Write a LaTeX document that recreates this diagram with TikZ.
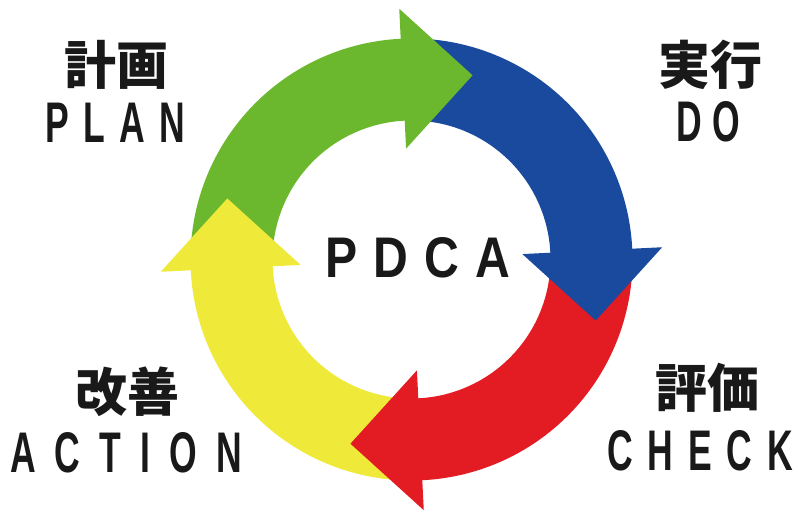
\documentclass[tikz,border=0pt]{standalone}
\usepackage{fontspec}
\usepackage{graphicx}
\setmainfont{Liberation Sans}
\newfontfamily\cjk{Noto Sans CJK JP}
\definecolor{pgreen}{RGB}{107,183,45}
\definecolor{pblue}{RGB}{26,74,158}
\definecolor{pred}{RGB}{227,28,35}
\definecolor{pyellow}{RGB}{239,233,58}
\newcommand\pdcaband[3]{%
  \fill[#1,shift={(411.5,250.5)}] (#2:221) arc[start angle=#2,end angle=#3,radius=221]
    -- (#3:139) arc[start angle=#3,end angle=#2,radius=139] -- cycle;}
\newcommand\pdcahead[2]{%
  \fill[#1,shift={(411.5,250.5)}] (#2:111) -- (#2:251) -- ({#2-21.14}:194.06) -- cycle;}
\newcommand\cword[2]{\scalebox{0.62}[1]{\makebox[#1]{#2}}}
\begin{document}
\begin{tikzpicture}[x=1pt,y=1pt,
  lab/.style={inner sep=0pt,text=black!90,font=\bfseries\fontsize{57.3}{60}\selectfont},
  jlab/.style={inner sep=0pt,text=black!90,font=\cjk\bfseries\fontsize{52}{56}\selectfont}]
\useasboundingbox (0,0) rectangle (802,510);
\fill[white] (0,0) rectangle (802,510);
% bands: each starts and ends hidden under an arrow head
\pdcaband{pgreen}{181.3}{90.3}
\pdcaband{pblue}{91.3}{0.3}
\pdcaband{pred}{1.3}{-89.7}
\pdcaband{pyellow}{-88.7}{-179.7}
% heads
\pdcahead{pgreen}{92.8}
\pdcahead{pblue}{2.8}
\pdcahead{pred}{-87.2}
\pdcahead{pyellow}{182.8}
% texts
\node[lab] (pdca) at (418,252) {\scalebox{0.84}[1]{\makebox[220pt]{P\hfill D\hfill C\hfill A}}};
\node[jlab] (keikaku) at (116,445) {計画};
\node[lab] (plan) at (115,387.5) {\cword{225pt}{P\hfill L\hfill A\hfill N}};
\node[jlab] (jikko) at (710,445.5) {実行};
\node[lab] (do) at (708.5,388) {\cword{102pt}{D\hfill O}};
\node[jlab] (hyoka) at (707,122.5) {評価};
\node[lab] (check) at (700,59) {\cword{300pt}{C\hfill H\hfill E\hfill C\hfill K}};
\node[jlab] (kaizen) at (127.5,118.5) {改善};
\node[lab] (action) at (126,57.5) {\cword{374pt}{A\hfill C\hfill T\hfill I\hfill O\hfill N}};
\end{tikzpicture}
\end{document}
